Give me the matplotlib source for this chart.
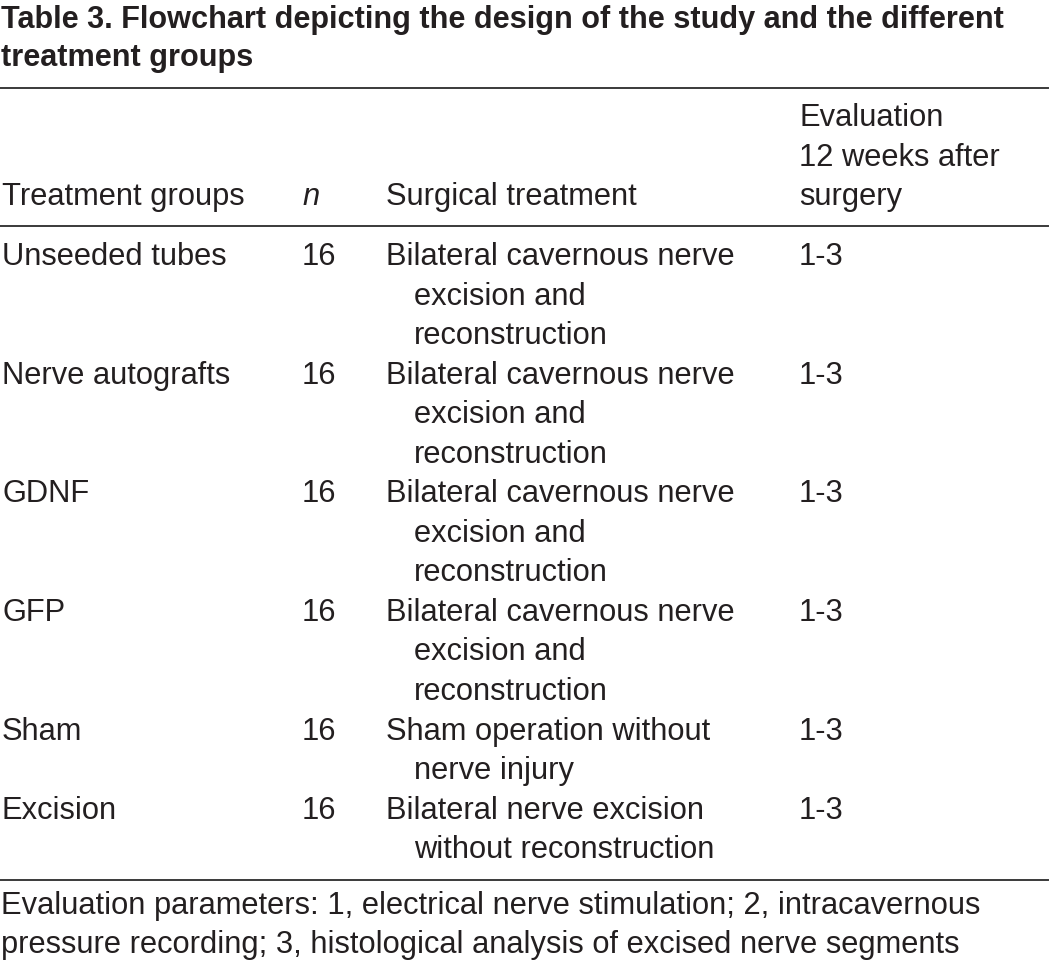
import matplotlib.pyplot as plt

plt.rcParams['font.family'] = ['Liberation Sans', 'DejaVu Sans']

title_lines = ["Table 3. Flowchart depicting the design of the study and the different",
               "treatment groups"]
header_eval = ["Evaluation", "12 weeks after", "surgery"]
headers = ["Treatment groups", "n", "Surgical treatment"]

groups = ["Unseeded tubes", "Nerve autografts", "GDNF", "GFP", "Sham", "Excision"]
n_values = [16, 16, 16, 16, 16, 16]
surgery = [
    ["Bilateral cavernous nerve", "excision and", "reconstruction"],
    ["Bilateral cavernous nerve", "excision and", "reconstruction"],
    ["Bilateral cavernous nerve", "excision and", "reconstruction"],
    ["Bilateral cavernous nerve", "excision and", "reconstruction"],
    ["Sham operation without", "nerve injury"],
    ["Bilateral nerve excision", "without reconstruction"],
]
evaluation = ["1-3", "1-3", "1-3", "1-3", "1-3", "1-3"]
footnote = ["Evaluation parameters: 1, electrical nerve stimulation; 2, intracavernous",
            "pressure recording; 3, histological analysis of excised nerve segments"]

W, H = 1051, 961
fig = plt.figure(figsize=(W / 100, H / 100), dpi=100)
ax = fig.add_axes([0, 0, 1, 1])
ax.set_xlim(0, W)
ax.set_ylim(H, 0)
ax.axis('off')

ink = '#231f20'
fs = 22.2
lh = 39.55
col_x = [2, 302, 386, 799]
indent = 28

for i, t in enumerate(title_lines):
    ax.text(1, 28 + 38 * i, t, fontsize=22.1, fontweight='bold', color=ink, va='baseline')

for y in (88, 226, 880):
    ax.plot([0, 1048], [y, y], color='#3a3a3a', lw=1.4)

for i, t in enumerate(header_eval):
    ax.text(col_x[3], 126 + lh * i, t, fontsize=fs, color=ink, va='baseline')
hb = 126 + lh * 2
ax.text(col_x[0], hb, headers[0], fontsize=fs, color=ink, va='baseline')
ax.text(col_x[1], hb, headers[1], fontsize=fs, color=ink, va='baseline', style='italic')
ax.text(col_x[2], hb, headers[2], fontsize=fs, color=ink, va='baseline')

line = 0
for g, n, s, e in zip(groups, n_values, surgery, evaluation):
    y0 = 265 + lh * line
    ax.text(col_x[0], y0, g, fontsize=fs, color=ink, va='baseline')
    ax.text(col_x[1], y0, str(n), fontsize=fs, color=ink, va='baseline')
    ax.text(col_x[3], y0, e, fontsize=fs, color=ink, va='baseline')
    for j, t in enumerate(s):
        x = col_x[2] + (indent if j > 0 else 0)
        ax.text(x, y0 + lh * j, t, fontsize=fs, color=ink, va='baseline')
    line += len(s)

for i, t in enumerate(footnote):
    ax.text(1, 914 + 39 * i, t, fontsize=fs, color=ink, va='baseline')

fig.savefig('out.png', dpi=100)
